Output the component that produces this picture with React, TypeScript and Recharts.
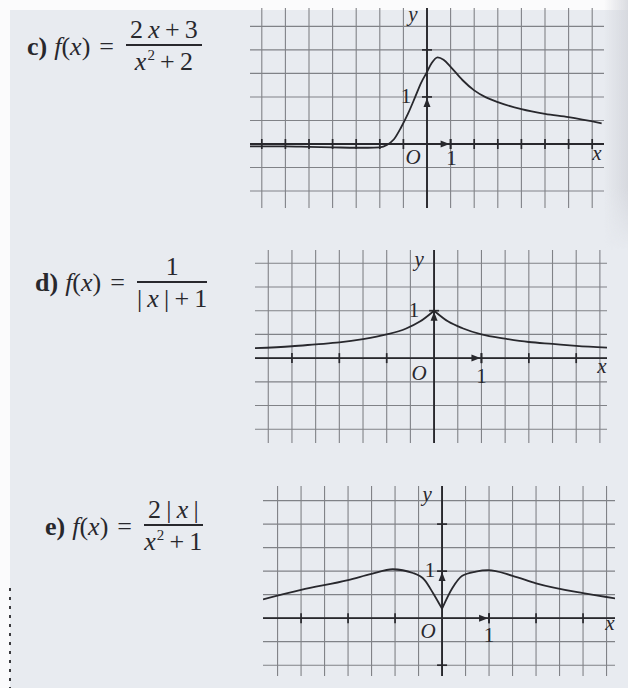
import React from 'react';
import { LineChart, Line, XAxis, YAxis, ReferenceLine, ReferenceDot } from 'recharts';

const INK = '#28282d';
const GRID = '#808287';
const PAPER = '#e8ebf0';
const SERIF = '"Liberation Serif", "Times New Roman", Tinos, "DejaVu Serif", "Noto Serif", serif';
// extra room around each plot so the axis letters are not clipped
const PAD = 20;

// c) f(x) = (2x + 3) / (x² + 2)
const cCurveX = [-7.5, -6, -5, -4, -3, -2.5, -2, -1.7, -1.4, -1.1, -0.8, -0.5, -0.25, 0, 0.2, 0.45, 0.7, 1, 1.5, 2, 2.5, 3, 4, 5, 6, 7.4];
const cCurveY = [-0.05, -0.05, -0.06, -0.07, -0.08, -0.08, -0.07, -0.02, 0.1, 0.35, 0.65, 1.0, 1.3, 1.53, 1.72, 1.84, 1.79, 1.64, 1.36, 1.14, 0.99, 0.89, 0.74, 0.64, 0.57, 0.44];
const cGridX = [-7, -6, -5, -4, -3, -2, -1, 0, 1, 2, 3, 4, 5, 6, 7];
const cGridY = [-1, -0.5, 0, 0.5, 1, 1.5, 2, 2.5];
const cTicksX = [-7, -6, -5, -4, -3, -2, -1, 1, 2, 3, 4, 5, 6, 7];
const cTicksY = [2];

// d) f(x) = 1 / (|x| + 1), drawn as two branches meeting at the peak
const dLeftX = [-3.78, -3, -2.5, -2, -1.5, -1, -0.6, -0.3, 0];
const dLeftY = [0.21, 0.25, 0.29, 0.33, 0.4, 0.5, 0.62, 0.77, 1.0];
const dRightX = [0, 0.3, 0.6, 1, 1.5, 2, 2.5, 3, 3.65];
const dRightY = [1.0, 0.77, 0.63, 0.5, 0.41, 0.34, 0.3, 0.26, 0.22];
const dGridX = [-3.5, -3, -2.5, -2, -1.5, -1, -0.5, 0, 0.5, 1, 1.5, 2, 2.5, 3, 3.5];
const dGridY = [-1.5, -1, -0.5, 0, 0.5, 1, 1.5, 2];
const dTicksX = [-3, -2, -1, 1, 2, 3];
const dTicksY: number[] = [];

// e) f(x) = 2|x| / (x² + 1), two branches meeting at the cusp
const eLeftX = [-3.81, -3, -2, -1.5, -1.05, -0.62, -0.37, -0.19, 0];
const eLeftY = [0.4, 0.6, 0.81, 0.94, 1.04, 0.96, 0.81, 0.53, 0.2];
const eRightX = [0, 0.22, 0.43, 0.72, 0.98, 1.5, 2, 3, 3.68];
const eRightY = [0.2, 0.64, 0.9, 0.99, 1.02, 0.9, 0.74, 0.53, 0.42];
const eGridX = [-3.5, -3, -2.5, -2, -1.5, -1, -0.5, 0, 0.5, 1, 1.5, 2, 2.5, 3, 3.5];
const eGridY = [-1, -0.5, 0, 0.5, 1, 1.5, 2, 2.5];
const eTicksX = [-3, -2, -1, 1, 2, 3];
const eTicksY = [2, -1];

type Pt = { x: number; y: number };
const zip = (xs: number[], ys: number[]): Pt[] => xs.map((x, i) => ({ x, y: ys[i] }));

type AxisLabel = { text: string; at: [number, number]; dx: number; dy: number; italic?: boolean; size?: number };

type PanelProps = {
  left: number;
  top: number;
  width: number;
  height: number;
  xDomain: [number, number];
  yDomain: [number, number];
  gridX: number[];
  gridY: number[];
  ticksX: number[];
  ticksY: number[];
  branches: Pt[][];
  labels: AxisLabel[];
};

const tickX = (p: any) => (
  <line x1={p.cx} x2={p.cx} y1={p.cy - 5} y2={p.cy + 5} stroke={INK} strokeWidth={1.7} />
);
const tickY = (p: any) => (
  <line x1={p.cx - 5} x2={p.cx + 5} y1={p.cy} y2={p.cy} stroke={INK} strokeWidth={1.7} />
);
const arrowRight = (p: any) => (
  <path d={`M${p.cx - 1},${p.cy} L${p.cx - 10},${p.cy - 3.5} L${p.cx - 10},${p.cy + 3.5} Z`} fill={INK} />
);
const arrowUp = (p: any) => (
  <path d={`M${p.cx},${p.cy + 1} L${p.cx - 3.5},${p.cy + 10} L${p.cx + 3.5},${p.cy + 10} Z`} fill={INK} />
);

function GraphPanel(p: PanelProps) {
  return (
    <div style={{ position: 'absolute', left: p.left - PAD, top: p.top - PAD }}>
      <LineChart
        width={p.width + 2 * PAD}
        height={p.height + 2 * PAD}
        margin={{ top: PAD, right: PAD, bottom: PAD, left: PAD }}
      >
        <XAxis type="number" dataKey="x" domain={p.xDomain} allowDataOverflow hide />
        <YAxis type="number" dataKey="y" domain={p.yDomain} allowDataOverflow hide />
        {p.gridX.map((v) => (
          <ReferenceLine key={`gx${v}`} x={v} stroke={GRID} strokeWidth={1.1} />
        ))}
        {p.gridY.map((v) => (
          <ReferenceLine key={`gy${v}`} y={v} stroke={GRID} strokeWidth={1.1} />
        ))}
        <ReferenceLine y={0} stroke={INK} strokeWidth={1.9} />
        <ReferenceLine x={0} stroke={INK} strokeWidth={1.9} />
        {p.ticksX.map((v) => (
          <ReferenceDot key={`tx${v}`} x={v} y={0} shape={tickX} />
        ))}
        {p.ticksY.map((v) => (
          <ReferenceDot key={`ty${v}`} x={0} y={v} shape={tickY} />
        ))}
        <ReferenceDot x={1} y={0} shape={tickX} />
        <ReferenceDot x={1} y={0} shape={arrowRight} />
        <ReferenceDot x={0} y={1} shape={tickY} />
        <ReferenceDot x={0} y={1} shape={arrowUp} />
        {p.branches.map((b, i) => (
          <Line
            key={`b${i}`}
            data={b}
            dataKey="y"
            type="monotone"
            stroke={INK}
            strokeWidth={1.8}
            dot={false}
            activeDot={false}
            isAnimationActive={false}
          />
        ))}
        {p.labels.map((l, i) => (
          <ReferenceDot
            key={`l${i}`}
            x={l.at[0]}
            y={l.at[1]}
            shape={(s: any) => (
              <text
                x={s.cx + l.dx}
                y={s.cy + l.dy}
                textAnchor="middle"
                fontFamily={SERIF}
                fontStyle={l.italic ? 'italic' : 'normal'}
                fontSize={l.size ?? 21}
                fill={INK}
              >
                {l.text}
              </text>
            )}
          />
        ))}
      </LineChart>
    </div>
  );
}

const Sup = ({ children }: { children: React.ReactNode }) => (
  <span style={{ fontSize: 15, position: 'relative', top: -10, marginLeft: 1 }}>{children}</span>
);

function Formula(props: { left: number; barY: number; tag: string; num: React.ReactNode; den: React.ReactNode }) {
  const half = 27;
  return (
    <div
      style={{
        position: 'absolute',
        left: props.left,
        top: props.barY - half,
        display: 'flex',
        alignItems: 'center',
        fontFamily: SERIF,
        fontSize: 26,
        color: INK,
        whiteSpace: 'nowrap',
      }}
    >
      <b>{props.tag}</b>
      <span style={{ marginLeft: 7 }}>
        <i>f</i>(<i>x</i>)
      </span>
      <span style={{ margin: '0 12px 0 9px' }}>=</span>
      <div style={{ display: 'flex', flexDirection: 'column', alignItems: 'stretch', textAlign: 'center' }}>
        <div style={{ lineHeight: '26px', padding: '0 4px 1px' }}>{props.num}</div>
        <div style={{ height: 1.6, background: INK }} />
        <div style={{ lineHeight: '26px', paddingTop: 3 }}>{props.den}</div>
      </div>
    </div>
  );
}

export default function App() {
  return (
    <div style={{ position: 'fixed', left: 0, top: 0, width: 628, height: 688, background: '#fbfbfc', overflow: 'hidden' }}>
      <div style={{ position: 'absolute', left: 10, top: 10, right: 0, bottom: 0, background: PAPER }} />
      <div
        style={{
          position: 'absolute',
          left: 604,
          top: 0,
          width: 24,
          height: 250,
          background: 'linear-gradient(to right, rgba(214,216,222,0), rgba(210,212,218,0.8))',
          WebkitMaskImage: 'linear-gradient(to bottom, #000 75%, transparent)',
          maskImage: 'linear-gradient(to bottom, #000 75%, transparent)',
        }}
      />
      <div
        style={{
          position: 'absolute',
          left: 9,
          top: 588,
          width: 2,
          height: 100,
          background: 'repeating-linear-gradient(to bottom, #3a3a3e 0 3px, transparent 3px 9px)',
        }}
      />

      <Formula
        left={27}
        barY={44}
        tag="c)"
        num={<span>2&thinsp;<i>x</i>&thinsp;+&thinsp;3</span>}
        den={<span><i>x</i><Sup>2</Sup>&thinsp;+&thinsp;2</span>}
      />
      <Formula
        left={35}
        barY={281}
        tag="d)"
        num={<span>1</span>}
        den={<span>|&thinsp;<i>x</i>&thinsp;|&thinsp;+&thinsp;1</span>}
      />
      <Formula
        left={45}
        barY={524}
        tag="e)"
        num={<span>2&thinsp;|&thinsp;<i>x</i>&thinsp;|</span>}
        den={<span><i>x</i><Sup>2</Sup>&thinsp;+&thinsp;1</span>}
      />

      <GraphPanel
        left={250}
        top={8}
        width={354}
        height={200}
        xDomain={[-7.5, 7.5]}
        yDomain={[-1.36, 2.89]}
        gridX={cGridX}
        gridY={cGridY}
        ticksX={cTicksX}
        ticksY={cTicksY}
        branches={[zip(cCurveX, cCurveY)]}
        labels={[
          { text: 'y', at: [0, 2.89], dx: -14, dy: 13, italic: true },
          { text: 'x', at: [7.5, 0], dx: -7, dy: 16, italic: true },
          { text: 'O', at: [0, 0], dx: -14, dy: 20, italic: true },
          { text: '1', at: [1, 0], dx: 1, dy: 21 },
          { text: '1', at: [0, 1], dx: -21, dy: 6 },
        ]}
      />
      <GraphPanel
        left={255}
        top={250}
        width={352}
        height={193}
        xDomain={[-3.78, 3.65]}
        yDomain={[-1.79, 2.28]}
        gridX={dGridX}
        gridY={dGridY}
        ticksX={dTicksX}
        ticksY={dTicksY}
        branches={[zip(dLeftX, dLeftY), zip(dRightX, dRightY)]}
        labels={[
          { text: 'y', at: [0, 2.28], dx: -15, dy: 16, italic: true },
          { text: 'x', at: [3.65, 0], dx: -5, dy: 15, italic: true },
          { text: 'O', at: [0, 0], dx: -15, dy: 22, italic: true },
          { text: '1', at: [1, 0], dx: 0, dy: 25 },
          { text: '1', at: [0, 1], dx: -20, dy: 6 },
        ]}
      />
      <GraphPanel
        left={263}
        top={486}
        width={352}
        height={190}
        xDomain={[-3.81, 3.68]}
        yDomain={[-1.23, 2.81]}
        gridX={eGridX}
        gridY={eGridY}
        ticksX={eTicksX}
        ticksY={eTicksY}
        branches={[zip(eLeftX, eLeftY), zip(eRightX, eRightY)]}
        labels={[
          { text: 'y', at: [0, 2.81], dx: -15, dy: 15, italic: true },
          { text: 'x', at: [3.68, 0], dx: -5, dy: 12, italic: true },
          { text: 'O', at: [0, 0], dx: -14, dy: 20, italic: true },
          { text: '1', at: [1, 0], dx: 0, dy: 24 },
          { text: '1', at: [0, 1], dx: -12, dy: 6 },
        ]}
      />
    </div>
  );
}
